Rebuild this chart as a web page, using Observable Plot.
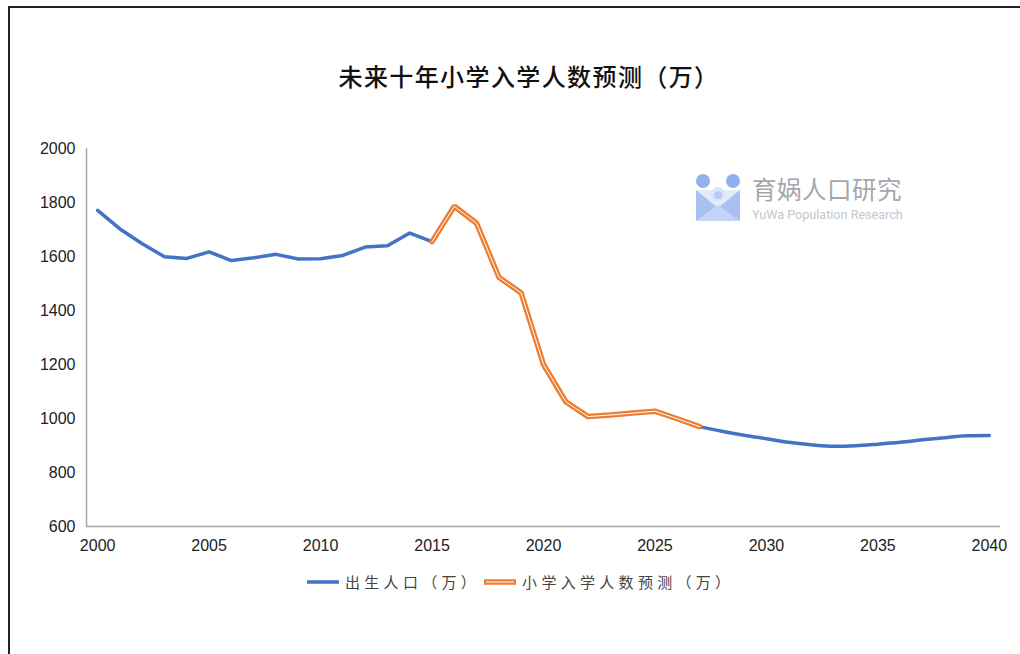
<!DOCTYPE html>
<html><head><meta charset="utf-8">
<script src="https://cdn.jsdelivr.net/npm/d3@7"></script>
<script src="https://cdn.jsdelivr.net/npm/@observablehq/plot@0.6"></script>
<style>
html,body{margin:0;padding:0;background:#fff;}
#wrap{position:relative;width:1020px;height:654px;overflow:hidden;background:#fff;}
#frame{position:absolute;left:8px;top:6px;width:1040px;height:700px;border-left:2px solid #222;border-top:2px solid #222;}
#title{position:absolute;left:8px;width:1042px;top:58px;text-align:center;font-family:"Noto Sans CJK SC";font-size:24px;font-weight:500;color:#111;letter-spacing:1.4px;}
#chart{position:absolute;left:0;top:0;}
#legend{position:absolute;top:571px;left:307px;font-family:"Noto Sans CJK SC";font-size:15px;color:#444;letter-spacing:4.3px;display:flex;align-items:center;white-space:nowrap;}
#legend .it{display:flex;align-items:center;}
#wm{position:absolute;left:690px;top:168px;}
</style></head>
<body><div id="wrap"><div id="frame"></div><div id="title">未来十年小学入学人数预测（万）</div><div id="chart"></div>
<svg id="wm" width="240" height="60">
  <rect x="6" y="22" width="44" height="31" fill="#e3ebfb"/>
  <polygon points="6,22 28,40 6,53" fill="#a8c1f1"/>
  <polygon points="50,22 28,40 50,53" fill="#a8c1f1"/>
  <polygon points="6,53 28,37 50,53" fill="#c3d5f6"/>
  <circle cx="28" cy="26" r="7" fill="#d9e5fb"/>
  <circle cx="28" cy="27" r="4" fill="#b6cbf4"/>
  <circle cx="13" cy="13" r="7" fill="#90b0ee"/>
  <circle cx="43" cy="13" r="7" fill="#90b0ee"/>
  <text x="62" y="31" font-family="Noto Sans CJK SC" font-size="24.5" fill="#a3a7ad" letter-spacing="0.5">育娲人口研究</text>
  <text x="62" y="51" font-family="Roboto" font-size="12.6" fill="#c4c7cc">YuWa Population Research</text>
</svg>
<div id="legend">
  <div class="it"><svg width="32" height="10"><line x1="1" y1="5" x2="31" y2="5" stroke="#4472C4" stroke-width="3.5" stroke-linecap="round"/></svg><span style="margin-left:6px">出生人口（万）</span></div>
  <div class="it" style="margin-left:4px"><svg width="32" height="10"><line x1="1" y1="5" x2="31" y2="5" stroke="#ED7D31" stroke-width="5.5" stroke-linecap="round"/><line x1="2" y1="5" x2="30" y2="5" stroke="#fff" stroke-width="1"/></svg><span style="margin-left:6px">小学入学人数预测（万）</span></div>
</div>
</div>
<script>
const birthYears = [2000,2001,2002,2003,2004,2005,2006,2007,2008,2009,2010,2011,2012,2013,2014,2015];
const births = [1771,1702,1647,1599,1593,1617,1585,1595,1608,1591,1592,1604,1635,1640,1687,1655];
const forecastYears = [2015,2016,2017,2018,2019,2020,2021,2022,2023,2024,2025,2026,2027];
const enrollment = [1655,1786,1723,1523,1465,1200,1062,1007,1013,1020,1027,999,970];
const projYears = [2027,2028,2029,2030,2031,2032,2033,2034,2035,2036,2037,2038,2039,2040];
const projBirths = [970,953,938,925,912,903,897,899,905,912,921,929,936,937];
const xTicks = [2000,2005,2010,2015,2020,2025,2030,2035,2040];
const yTicks = [600,800,1000,1200,1400,1600,1800,2000];

const hist = birthYears.map((y,i)=>({year:y, v:births[i]}));
const fc = forecastYears.map((y,i)=>({year:y, v:enrollment[i]}));
const proj = projYears.map((y,i)=>({year:y, v:projBirths[i]}));

const plot = Plot.plot({
  width: 1020, height: 560,
  marginLeft: 86, marginRight: 20, marginTop: 148, marginBottom: 34,
  style: {fontFamily: "Liberation Sans, Arial, sans-serif", fontSize: "16px", color: "#222", background: "transparent"},
  x: {domain: [1999.5, 2040.5], ticks: xTicks, tickFormat: d => String(d), tickSize: 0, tickPadding: 13, label: null},
  y: {domain: [600, 2000], ticks: yTicks, tickFormat: d => String(d), tickSize: 0, tickPadding: 11, label: null},
  marks: [
    Plot.ruleX([1999.5], {stroke: "#a6a6a6", strokeWidth: 1.5}),
    Plot.ruleY([600], {stroke: "#a6a6a6", strokeWidth: 1.5}),
    Plot.line(hist, {x: "year", y: "v", stroke: "#4472C4", strokeWidth: 3.5, strokeLinejoin: "round"}),
    Plot.line(proj, {x: "year", y: "v", stroke: "#4472C4", strokeWidth: 3.5, strokeLinejoin: "round", curve: "monotone-x"}),
    Plot.line(fc, {x: "year", y: "v", stroke: "#ED7D31", strokeWidth: 5.5, strokeLinejoin: "miter"}),
    Plot.line(fc, {x: "year", y: "v", stroke: "#fff", strokeWidth: 1, strokeLinejoin: "miter"})
  ]
});
document.getElementById("chart").appendChild(plot);
</script>
</body></html>
